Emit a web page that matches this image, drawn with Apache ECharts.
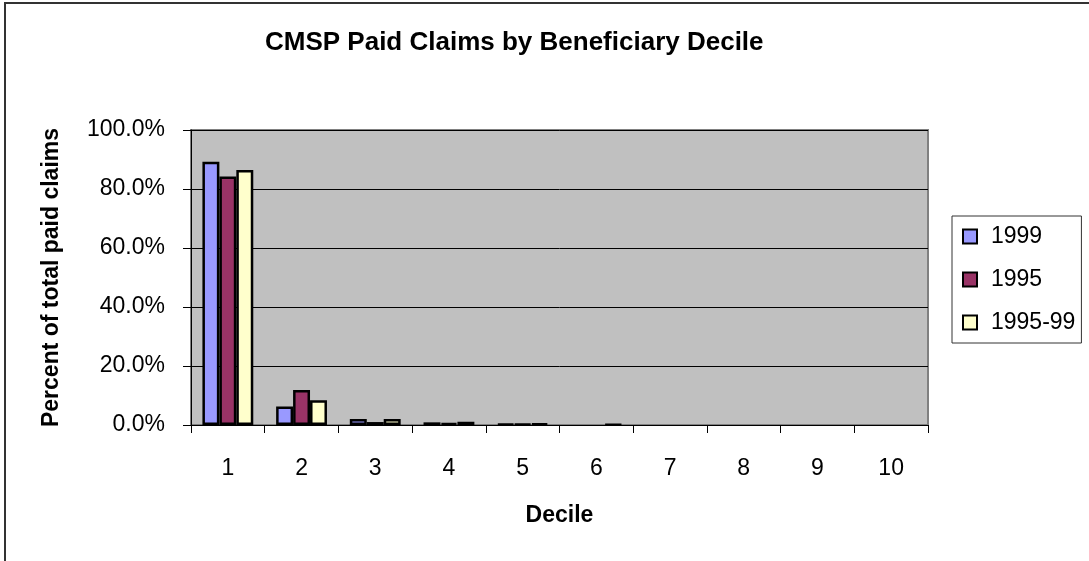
<!DOCTYPE html>
<html>
<head>
<meta charset="utf-8">
<script src="https://cdn.jsdelivr.net/npm/echarts@6/dist/echarts.min.js"></script>
<style>
html,body{margin:0;padding:0;background:#fff;}
#chart{width:1089px;height:561px;}
</style>
</head>
<body>
<div id="chart"></div>
<script>
var categories = ['1','2','3','4','5','6','7','8','9','10'];
var s1999 = [89.2, 6.3, 2.0, 0.9, 0.4, 0, 0, 0, 0, 0];
var s1995 = [84.2, 11.9, 1.0, 0.6, 0.3, 0, 0, 0, 0, 0];
var s199599 = [86.4, 8.4, 2.0, 1.1, 0.5, 0.2, 0, 0, 0, 0];
var seriesNames = ['1999', '1995', '1995-99'];
var seriesColors = ['#9999FF', '#993366', '#FFFFCC'];

var FONT = "'Liberation Sans', Arial, sans-serif";
var chart = echarts.init(document.getElementById('chart'), null, {renderer: 'canvas'});
var dataSets = [s1999, s1995, s199599];

chart.setOption({
  animation: false,
  backgroundColor: '#fff',
  title: {
    text: 'CMSP Paid Claims by Beneficiary Decile',
    left: 265, top: 30, padding: 0,
    textStyle: {fontFamily: FONT, fontSize: 26, fontWeight: 'bold', color: '#000'}
  },
  graphic: [{
    type: 'rect', shape: {x: 5, y: 3, width: 1200, height: 700},
    style: {fill: 'none', stroke: '#333', lineWidth: 2}, silent: true, z: 100
  }],
  legend: {
    orient: 'vertical', left: 952, top: 216, padding: [9, 6, 9, 10],
    itemGap: 20, itemWidth: 14, itemHeight: 14, icon: 'rect',
    borderColor: '#333', borderWidth: 1,
    itemStyle: {borderColor: '#000', borderWidth: 2},
    textStyle: {fontFamily: FONT, fontSize: 23, lineHeight: 23, color: '#000', padding: [0, 0, 0, 9]},
    data: seriesNames
  },
  grid: {
    left: 191, right: 161, top: 130, bottom: 136,
    show: true, backgroundColor: '#C0C0C0', borderColor: '#808080', borderWidth: 2
  },
  xAxis: {
    type: 'category', data: categories,
    name: 'Decile', nameLocation: 'middle', nameGap: 79,
    nameTextStyle: {fontFamily: FONT, fontSize: 23, fontWeight: 'bold', color: '#000'},
    axisLine: {lineStyle: {color: '#000', width: 1}},
    axisTick: {show: true, length: 8, lineStyle: {color: '#000'}},
    axisLabel: {fontFamily: FONT, fontSize: 23, color: '#000', margin: 32}
  },
  yAxis: {
    type: 'value', min: 0, max: 100, interval: 20,
    name: 'Percent of total paid claims', nameLocation: 'middle', nameGap: 128,
    nameTextStyle: {fontFamily: FONT, fontSize: 23, fontWeight: 'bold', color: '#000'},
    axisLine: {show: true, lineStyle: {color: '#000', width: 1}},
    axisTick: {show: true, length: 8, lineStyle: {color: '#000'}},
    axisLabel: {fontFamily: FONT, fontSize: 23, color: '#000', margin: 26,
      formatter: function (v) { return v.toFixed(1) + '%'; }},
    splitLine: {show: true, lineStyle: {color: '#000', width: 1}}
  },
  series: seriesNames.map(function (n, i) {
    return {
      name: n, type: 'bar',
      data: dataSets[i].map(function (v) { return v === 0 ? null : v; }),
      barGap: '0%', barCategoryGap: '31%',
      itemStyle: {color: seriesColors[i], borderColor: '#000', borderWidth: 2.5}
    };
  })
});
</script>
</body>
</html>
